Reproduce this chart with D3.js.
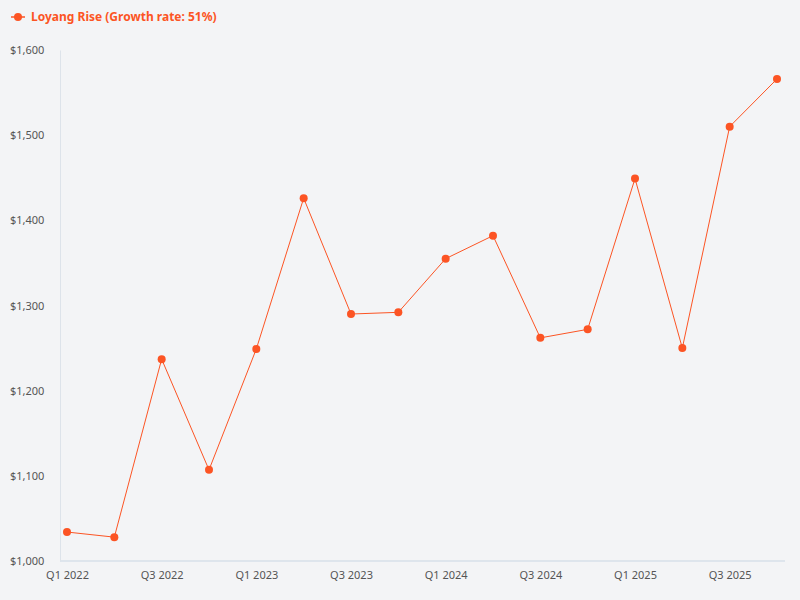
<!DOCTYPE html>
<html lang="en">
<head>
<meta charset="UTF-8" />
<script src="https://d3js.org/d3.v7.min.js"></script>
<style>
  body { margin:0; background:#f3f4f6; }
  svg, svg text { font-family: "Noto Sans", "Open Sans", sans-serif; }
</style>
</head>
<body>
<svg width="800" height="600"></svg>
<script>
// data
var quarters = ["Q1 2022","Q2 2022","Q3 2022","Q4 2022","Q1 2023","Q2 2023","Q3 2023","Q4 2023",
                "Q1 2024","Q2 2024","Q3 2024","Q4 2024","Q1 2025","Q2 2025","Q3 2025","Q4 2025"];
var values = [1034, 1028, 1237, 1107, 1249, 1426, 1290, 1292, 1355, 1382, 1262, 1272, 1449, 1250, 1510, 1566];
var yTicks = [1000, 1100, 1200, 1300, 1400, 1500, 1600];
var seriesName = "Loyang Rise (Growth rate: 51%)";

var color = "#fc5424";
var svg = d3.select("svg");
svg.append("rect").attr("width", 800).attr("height", 600).attr("fill", "#f3f4f6");

var plotLeft = 60, plotRight = 785, plotTop = 50, plotBottom = 561;

var x = d3.scalePoint().domain(quarters).range([67, 777]);
var y = d3.scaleLinear().domain([1000, 1600]).range([plotBottom, plotTop]);

// axes
var xAxis = svg.append("g").attr("transform", "translate(0," + plotBottom + ")")
  .call(d3.axisBottom(x).tickValues(quarters.filter(function(d, i){ return i % 2 == 0; })).tickSize(0).tickPadding(10));
xAxis.select(".domain").remove();
xAxis.attr("font-family", null);
svg.append("line").attr("x1", plotLeft).attr("x2", plotRight).attr("y1", plotBottom).attr("y2", plotBottom)
  .attr("stroke", "#c9d6e3").attr("stroke-width", 1);
xAxis.selectAll("text").attr("fill", "#555").style("font-size", "11px");

var yAxis = svg.append("g").attr("transform", "translate(" + plotLeft + ",0)")
  .call(d3.axisLeft(y).tickValues(yTicks).tickSize(0).tickFormat(function(d){ return "$" + d3.format(",")(d); }));
yAxis.attr("font-family", null);
yAxis.select(".domain").attr("stroke", "#dde3ea");
yAxis.selectAll(".tick text").attr("fill", "#555").style("font-size", "11px")
  .attr("text-anchor", "start").attr("x", -50);

// line
var line = d3.line().x(function(d, i){ return x(quarters[i]); }).y(function(d){ return y(d); });
svg.append("path").datum(values).attr("d", line).attr("fill", "none")
  .attr("stroke", color).attr("stroke-width", 1);

svg.selectAll("circle.pt").data(values).enter().append("circle")
  .attr("class", "pt")
  .attr("cx", function(d, i){ return x(quarters[i]); })
  .attr("cy", function(d){ return y(d); })
  .attr("r", 4).attr("fill", color);

// legend
var lg = svg.append("g").attr("transform", "translate(11,17)");
lg.append("line").attr("x1", 0).attr("x2", 14).attr("stroke", color).attr("stroke-width", 1.5);
lg.append("circle").attr("cx", 7).attr("r", 4).attr("fill", color);
lg.append("text").attr("x", 20).attr("y", 4).attr("fill", color)
  .style("font-size", "12px").style("font-weight", "bold").text(seriesName);
</script>
</body>
</html>
